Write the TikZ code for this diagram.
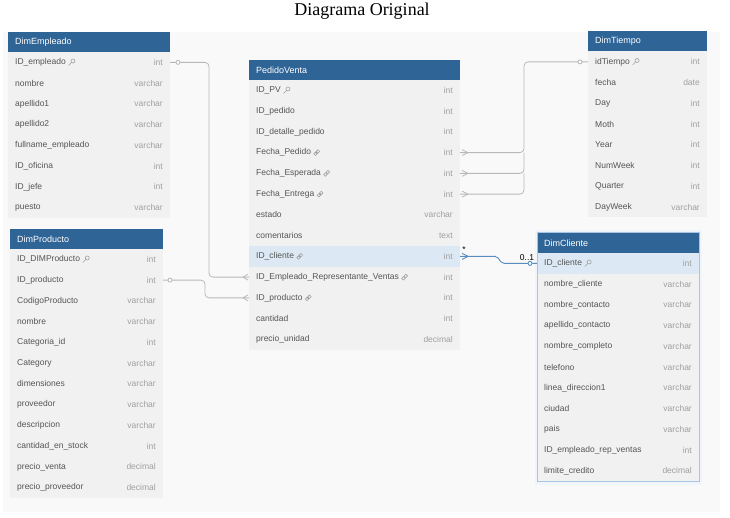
\documentclass[tikz,border=0pt]{standalone}
\usepackage{fontspec}
\setmainfont{Liberation Sans}
\newfontfamily\titlefont{Liberation Serif}
\usetikzlibrary{calc}
\definecolor{hdrblue}{HTML}{2F6496}
\definecolor{bodygray}{HTML}{F1F1F1}
\definecolor{canvasgray}{HTML}{F9F9F9}
\definecolor{hlblue}{HTML}{DCE9F4}
\definecolor{namegray}{HTML}{555555}
\definecolor{typegray}{HTML}{A0A0A0}
\definecolor{conngray}{HTML}{B8B8B8}
\definecolor{connblue}{HTML}{5A8DBF}
\definecolor{cliborder}{HTML}{A9C5E1}
\tikzset{
  hdrbox/.style={fill=hdrblue, draw=none, minimum height=20pt, inner sep=0pt, outer sep=0pt},
  hdrtext/.style={text=white, font=\fontsize{9}{11}\selectfont, inner sep=0pt, anchor=west},
  rowbox/.style={draw=none, minimum height=20.75pt, inner sep=0pt, outer sep=0pt},
  rowname/.style={text=namegray, font=\fontsize{8.5}{10}\selectfont, inner sep=0pt, anchor=west},
  rowtype/.style={text=typegray, font=\fontsize{8.5}{10}\selectfont, inner sep=0pt, anchor=east},
  conn/.style={draw=conngray, line width=0.8pt},
  bconn/.style={draw=connblue, line width=0.9pt},
  icon/.style={draw=typegray, line width=0.6pt},
  cardlbl/.style={text=black, font=\fontsize{8.5}{10}\selectfont, inner sep=0pt}
}
% #1 id, #2 x, #3 top, #4 width, #5 title, #6 highlighted row, #7 rows
\newcommand{\ertable}[7]{%
  \node[hdrbox, minimum width=#4pt, anchor=north west] (#1) at (#2,#3) {};
  \node[hdrtext] (#1-title) at ([xshift=7pt]#1.west) {#5};
  \foreach \n/\t [count=\i] in {#7} {
    \ifnum\i=#6\def\rf{hlblue}\else\def\rf{bodygray}\fi
    \node[rowbox, fill=\rf, minimum width=#4pt, anchor=north west] (#1-\i) at ({#2},{#3+20+(\i-1)*20.75}) {};
    \node[rowname] (#1-\i-n) at ([xshift=7pt]#1-\i.west) {\n};
    \node[rowtype] (#1-\i-t) at ([xshift=-7pt]#1-\i.east) {\t};
  }
}
\newcommand{\keyicon}[1]{\draw[icon] ($(#1.east)+(7,-1.4)$) circle (2pt) ($(#1.east)+(5.5,0.1)$) -- ($(#1.east)+(2.6,3)$);}
\newcommand{\linkicon}[1]{\draw[icon] ($(#1.east)+(4.3,1.2)$) circle (1.7pt) ($(#1.east)+(6.7,-1.2)$) circle (1.7pt);}
\newcommand{\onemark}[2][conn]{\draw[#1, fill=white] (#2) circle (2pt);}
\newcommand{\crowleft}[2][conn]{\draw[#1] ($(#2)+(-6,0)$) -- ($(#2)+(-1,-3)$) ($(#2)+(-6,0)$) -- ($(#2)+(-1,3)$);}
\newcommand{\crowright}[2][conn]{\draw[#1] ($(#2)+(8,0)$) -- ($(#2)+(2,-3)$) ($(#2)+(8,0)$) -- ($(#2)+(2,3)$);}
\begin{document}
\begin{tikzpicture}[x=1pt,y=-1pt]
\useasboundingbox (0,0) rectangle (730,518);
\fill[white] (0,0) rectangle (730,518);
\node[font=\titlefont\fontsize{18}{20}\selectfont] (title) at (362,11) {Diagrama Original};
\fill[canvasgray] (3,32) rectangle (720,512);
% shadow of selected table
\fill[hlblue!45] (534.5,230.5) rectangle (701.5,485);

\ertable{emp}{8}{32}{162}{DimEmpleado}{0}{ID\_empleado/int, nombre/varchar, apellido1/varchar, apellido2/varchar, fullname\_empleado/varchar, ID\_oficina/int, ID\_jefe/int, puesto/varchar}
\ertable{pv}{249}{60}{211}{PedidoVenta}{9}{ID\_PV/int, ID\_pedido/int, ID\_detalle\_pedido/int, Fecha\_Pedido/int, Fecha\_Esperada/int, Fecha\_Entrega/int, estado/varchar, comentarios/text, ID\_cliente/int, ID\_Empleado\_Representante\_Ventas/int, ID\_producto/int, cantidad/int, precio\_unidad/decimal}
\ertable{tie}{588}{31.5}{119}{DimTiempo}{0}{idTiempo/int, fecha/date, Day/int, Moth/int, Year/int, NumWeek/int, Quarter/int, DayWeek/varchar}
\ertable{pro}{10}{229}{153}{DimProducto}{0}{ID\_DIMProducto/int, ID\_producto/int, CodigoProducto/varchar, nombre/varchar, Categoria\_id/int, Category/varchar, dimensiones/varchar, proveedor/varchar, descripcion/varchar, cantidad\_en\_stock/int, precio\_venta/decimal, precio\_proveedor/decimal}
\ertable{cli}{537}{233}{162}{DimCliente}{1}{ID\_cliente/int, nombre\_cliente/varchar, nombre\_contacto/varchar, apellido\_contacto/varchar, nombre\_completo/varchar, telefono/varchar, linea\_direccion1/varchar, ciudad/varchar, pais/varchar, ID\_empleado\_rep\_ventas/int, limite\_credito/decimal}
\draw[cliborder, line width=1pt] (cli.north west) rectangle (cli-11.south east);

% icons
\keyicon{emp-1-n}
\keyicon{pv-1-n}
\linkicon{pv-4-n}
\linkicon{pv-5-n}
\linkicon{pv-6-n}
\linkicon{pv-9-n}
\linkicon{pv-10-n}
\linkicon{pv-11-n}
\keyicon{tie-1-n}
\keyicon{pro-1-n}
\keyicon{cli-1-n}

% connectors
\coordinate (ex) at (209,0);
\coordinate (px) at (205,0);
\coordinate (tx) at (524,0);
\coordinate (bx1) at (497,0);
\coordinate (bx2) at (502,0);

\draw[conn, rounded corners=4pt] (emp-1.east) -- (ex |- emp-1.east) -- (ex |- pv-10.west) -- (pv-10.west);
\onemark{$(emp-1.east)+(8,0)$}
\crowleft{pv-10.west}

\draw[conn, rounded corners=4pt] (pro-2.east) -- (px |- pro-2.east) -- (px |- pv-11.west) -- (pv-11.west);
\onemark{$(pro-2.east)+(7,0)$}
\crowleft{pv-11.west}

\draw[conn, rounded corners=4pt] (pv-4.east) -- (tx |- pv-4.east) -- (tx |- tie-1.west) -- (tie-1.west);
\draw[conn, rounded corners=4pt] (pv-5.east) -- (tx |- pv-5.east) -- (tx |- pv-4.east);
\draw[conn, rounded corners=4pt] (pv-6.east) -- (tx |- pv-6.east) -- (tx |- pv-5.east);
\crowright{pv-4.east}
\crowright{pv-5.east}
\crowright{pv-6.east}
\onemark{$(tie-1.west)+(-8,0)$}

\draw[bconn, rounded corners=2pt] (pv-9.east) -- (bx1 |- pv-9.east) -- (bx2 |- cli-1.west) -- (cli-1.west);
\crowright[bconn]{pv-9.east}
\onemark[bconn]{$(cli-1.west)+(-7,0)$}
\node[cardlbl] (many) at (464,250) {*};
\node[cardlbl] (one) at (527,257.5) {0..1};
\end{tikzpicture}
\end{document}
